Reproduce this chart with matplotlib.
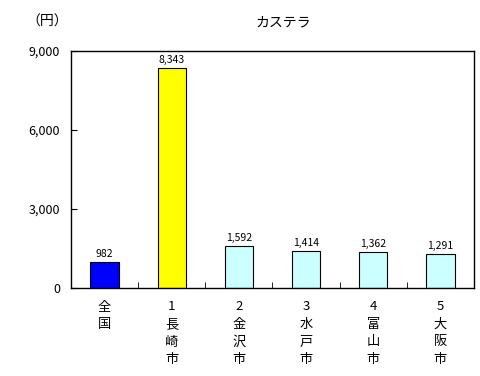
import matplotlib
matplotlib.use('Agg')
from matplotlib import pyplot as plt
from matplotlib.ticker import FuncFormatter

plt.rcParams['font.family'] = ['Noto Sans CJK JP', 'DejaVu Sans']

# データ
labels = ['全\n国', '1\n長\n崎\n市', '2\n金\n沢\n市', '3\n水\n戸\n市', '4\n富\n山\n市', '5\n大\n阪\n市']
values = [982, 8343, 1592, 1414, 1362, 1291]
colors = ['#0000FF', '#FFFF00', '#CCFFFF', '#CCFFFF', '#CCFFFF', '#CCFFFF']
yticks = [0, 3000, 6000, 9000]

fig = plt.figure(figsize=(4.81, 3.76), dpi=100)
ax = fig.add_axes([71/481, 1-288/376, 403/481, 237/376])

x = range(len(values))
ax.bar(x, values, width=0.42, color=colors, edgecolor='black', linewidth=0.8)
for i, v in zip(x, values):
    ax.text(i, v + 120, f'{v:,}', ha='center', va='bottom', fontsize=7.5)

ax.set_xlim(-0.5, len(values) - 0.5)
ax.set_ylim(0, 9000)
ax.set_yticks(yticks)
ax.yaxis.set_major_formatter(FuncFormatter(lambda v, p: f'{int(v):,}'))
ax.tick_params(axis='y', direction='in', length=4, labelsize=9, pad=8)

ax.set_xticks(list(x))
ax.set_xticklabels(labels, fontsize=9.5, linespacing=1.45, va='top')
ax.tick_params(axis='x', which='major', length=0, pad=9)
ax.set_xticks([i + 0.5 for i in range(len(values) - 1)], minor=True)
ax.tick_params(axis='x', which='minor', direction='in', length=4)

for s in ax.spines.values():
    s.set_linewidth(1)

fig.text(283/481, 1-22/376, 'カステラ', ha='center', va='center', fontsize=10)
fig.text(47/481, 1-22/376, '（円）', ha='center', va='center', fontsize=10)

fig.savefig('out.png', dpi=100)
